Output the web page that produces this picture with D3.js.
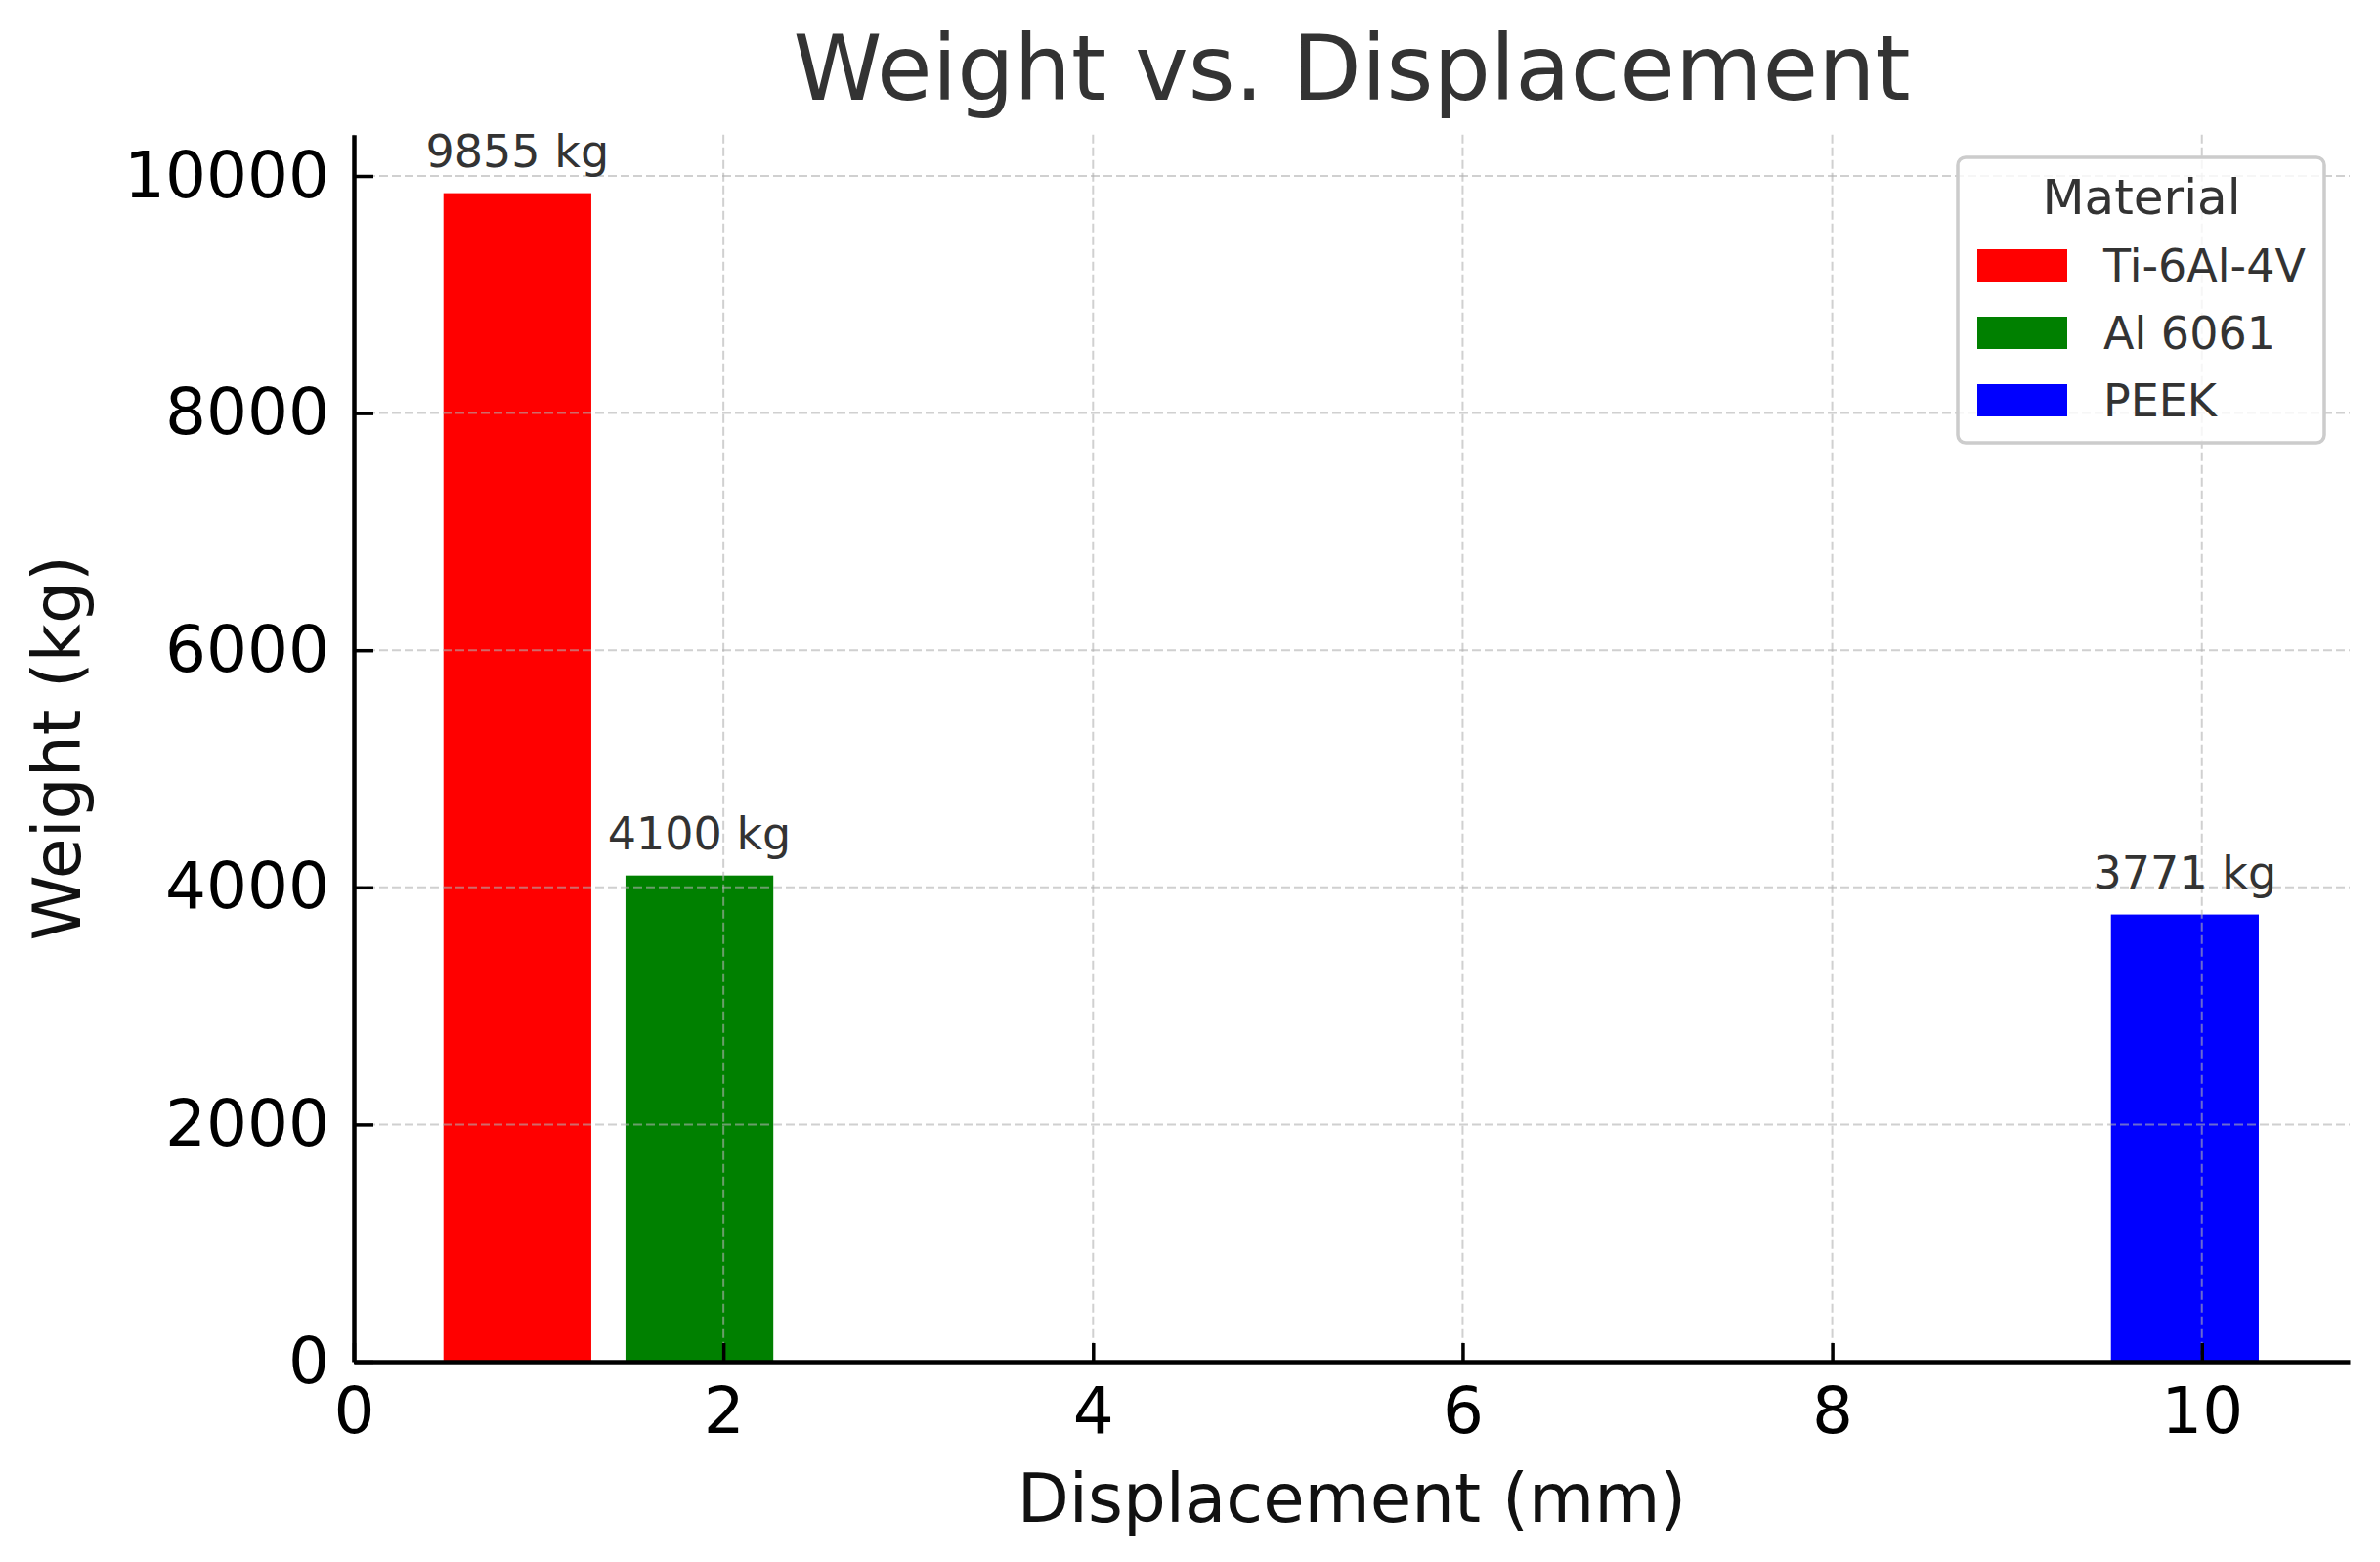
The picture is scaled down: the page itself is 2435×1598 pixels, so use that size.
<!DOCTYPE html>
<html>
<head>
<meta charset="utf-8">
<script src="https://cdn.jsdelivr.net/npm/d3@7"></script>
<style>
  html, body { margin: 0; padding: 0; background: #ffffff; }
  svg { display: block; font-family: "DejaVu Sans", sans-serif; }
</style>
</head>
<body>
<svg id="chart" width="2435" height="1598"></svg>
<script>
// ---- data ----
const materials = ["Ti-6Al-4V", "Al 6061", "PEEK"];
const displacements = [0.885, 1.87, 9.908];   // mm
const weights = [9855, 4100, 3771];            // kg
const barColors = ["#ff0000", "#008000", "#0000ff"];
const barWidthUnits = 0.8;
const xTicks = [0, 2, 4, 6, 8, 10];
const yTicks = [0, 2000, 4000, 6000, 8000, 10000];
const xDomain = [0, 10.8];
const yDomain = [0, 10348];
const titleText = "Weight vs. Displacement";
const xLabel = "Displacement (mm)";
const yLabel = "Weight (kg)";
const legendTitle = "Material";

// ---- layout ----
const svg = d3.select("#chart");
const plotLeft = 362, plotRight = 2404, plotBottom = 1393, plotTop = 137.8;

const x = d3.scaleLinear().domain(xDomain).range([plotLeft, plotRight]);
const y = d3.scaleLinear().domain(yDomain).range([plotBottom, plotTop]);

const data = materials.map((m, i) => ({
  material: m, disp: displacements[i], weight: weights[i], color: barColors[i]
}));

// bars
svg.append("g").selectAll("rect").data(data).join("rect")
  .attr("x", d => x(d.disp - barWidthUnits / 2))
  .attr("width", d => x(d.disp + barWidthUnits / 2) - x(d.disp - barWidthUnits / 2))
  .attr("y", d => y(d.weight))
  .attr("height", d => y(0) - y(d.weight))
  .attr("fill", d => d.color);

// grid (drawn above bars, semi-transparent)
const grid = svg.append("g").attr("stroke", "#b0b0b0").attr("stroke-opacity", 0.6)
  .attr("stroke-width", 2).attr("stroke-dasharray", "9,4");
grid.selectAll("line.v").data(xTicks).join("line").attr("class", "v")
  .attr("x1", d => x(d)).attr("x2", d => x(d)).attr("y1", y(yDomain[1])).attr("y2", y(0));
grid.selectAll("line.h").data(yTicks).join("line").attr("class", "h")
  .attr("y1", d => y(d)).attr("y2", d => y(d)).attr("x1", x(xDomain[0])).attr("x2", x(xDomain[1]));

// bar value labels
svg.append("g").selectAll("text").data(data).join("text")
  .attr("x", d => x(d.disp))
  .attr("y", d => y(d.weight) - 27)
  .attr("text-anchor", "middle")
  .attr("font-size", 46)
  .attr("fill", "#333333")
  .text(d => `${d.weight} kg`);

// axes
const xAxis = d3.axisBottom(x).tickValues(xTicks).tickFormat(d3.format("d"))
  .tickSizeInner(-19).tickSizeOuter(0).tickPadding(26);
const yAxis = d3.axisLeft(y).tickValues(yTicks).tickFormat(d3.format("d"))
  .tickSizeInner(-20).tickSizeOuter(0).tickPadding(25);

const gx = svg.append("g").attr("transform", `translate(0,${plotBottom})`).call(xAxis);
const gy = svg.append("g").attr("transform", `translate(${plotLeft},0)`).call(yAxis);

[gx, gy].forEach(g => {
  g.select(".domain").attr("stroke", "#000").attr("stroke-width", 4.5);
  g.selectAll(".tick line").attr("stroke", "#000").attr("stroke-width", 3.5);
  g.selectAll(".tick text").attr("font-size", 66).attr("fill", "#000")
    .attr("font-family", "DejaVu Sans, sans-serif");
});

// title
svg.append("text")
  .attr("x", (plotLeft + plotRight) / 2).attr("y", 102)
  .attr("text-anchor", "middle").attr("font-size", 92).attr("fill", "#333333")
  .text(titleText);

// x label
svg.append("text")
  .attr("x", (plotLeft + plotRight) / 2).attr("y", 1557)
  .attr("text-anchor", "middle").attr("font-size", 69).attr("fill", "#111")
  .text(xLabel);

// y label
svg.append("text")
  .attr("transform", `translate(82,${(plotTop + plotBottom) / 2}) rotate(-90)`)
  .attr("text-anchor", "middle").attr("font-size", 68).attr("fill", "#111")
  .text(yLabel);

// legend
const lg = svg.append("g");
lg.append("rect")
  .attr("x", 2003).attr("y", 161).attr("width", 375).attr("height", 292)
  .attr("rx", 8).attr("ry", 8)
  .attr("fill", "#ffffff").attr("fill-opacity", 0.8)
  .attr("stroke", "#cccccc").attr("stroke-width", 3.5);
lg.append("text")
  .attr("x", 2191).attr("y", 219).attr("text-anchor", "middle")
  .attr("font-size", 50).attr("fill", "#333333").text(legendTitle);
const items = lg.selectAll("g.item").data(data).join("g").attr("class", "item")
  .attr("transform", (d, i) => `translate(0,${i * 69})`);
items.append("rect")
  .attr("x", 2023).attr("y", 255).attr("width", 92).attr("height", 33)
  .attr("fill", d => d.color);
items.append("text")
  .attr("x", 2152).attr("y", 288).attr("font-size", 46).attr("fill", "#333333")
  .text(d => d.material);
</script>
</body>
</html>
